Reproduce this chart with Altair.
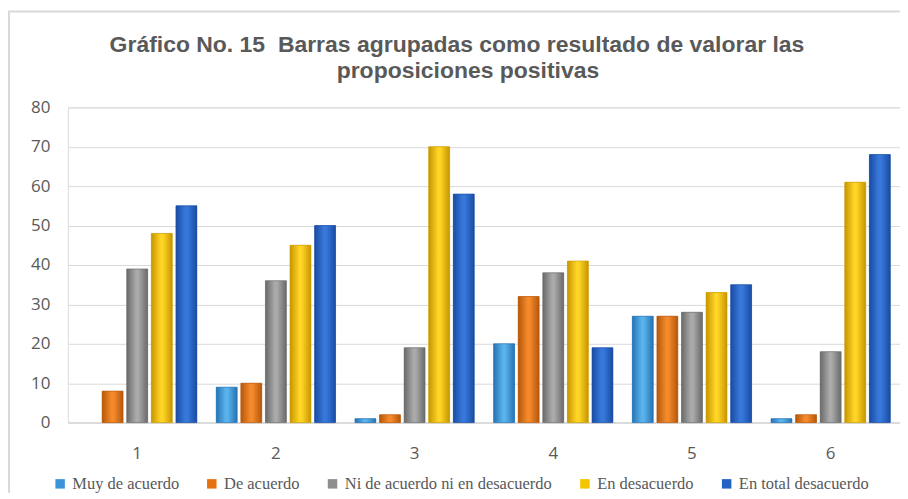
import altair as alt
import pandas as pd

groups = ["1", "2", "3", "4", "5", "6"]
series = ["Muy de acuerdo", "De acuerdo", "Ni de acuerdo ni en desacuerdo",
          "En desacuerdo", "En total desacuerdo"]
muy_de_acuerdo = [0, 9, 1, 20, 27, 1]
de_acuerdo = [8, 10, 2, 32, 27, 2]
ni_ni = [39, 36, 19, 38, 28, 18]
en_desacuerdo = [48, 45, 70, 41, 33, 61]
en_total_desacuerdo = [55, 50, 58, 19, 35, 68]
colors = ["#3a95d8", "#e8710f", "#8e8e8e", "#f5c400", "#2463c4"]
edge_colors = ["#2672b3", "#b5570a", "#6a6a6a", "#c79600", "#1a4ca3"]
mid_colors = ["#5ab3ec", "#f48a2c", "#aaaaaa", "#ffd526", "#3878db"]
title_lines = ["Gráfico No. 15\u00a0 Barras agrupadas como resultado de valorar las",
               "proposiciones positivas"]

values = [muy_de_acuerdo, de_acuerdo, ni_ni, en_desacuerdo, en_total_desacuerdo]
rows = []
for s, vals in zip(series, values):
    for g, v in zip(groups, vals):
        rows.append({"grupo": g, "serie": s, "valor": v})
df = pd.DataFrame(rows)

x_enc = alt.X("grupo:N", sort=groups, title=None,
              scale=alt.Scale(paddingInner=0.14, paddingOuter=0.07),
              axis=alt.Axis(labelAngle=0, labelFont="Open Sans", labelFontSize=17,
                            labelColor="#595959", labelPadding=23, ticks=False,
                            domainColor="#d9d9d9", domainWidth=1.5, grid=False))
xo_enc = alt.XOffset("serie:N", sort=series, scale=alt.Scale(paddingInner=0.15))
y_enc = alt.Y("valor:Q", title=None,
              scale=alt.Scale(domain=[0, 80], nice=False),
              axis=alt.Axis(values=list(range(0, 81, 10)), labelFont="Open Sans",
                            labelFontSize=17, labelColor="#595959", labelPadding=18,
                            ticks=False, domain=False, gridColor="#d9d9d9",
                            gridWidth=1))

bars = alt.Chart(df).mark_bar().encode(
    x=x_enc, xOffset=xo_enc, y=y_enc,
    color=alt.Color("serie:N", sort=series,
                    scale=alt.Scale(domain=series, range=colors),
                    legend=alt.Legend(title=None, orient="none", direction="horizontal",
                                      legendX=-16, legendY=369,
                                      symbolType="square", symbolSize=90,
                                      symbolStrokeWidth=0,
                                      labelFont="Liberation Serif", labelFontSize=16.5,
                                      labelColor="#595959", columnPadding=24,
                                      labelLimit=400)),
)

shade_layers = []
for s, ec, mc in zip(series, edge_colors, mid_colors):
    grad = alt.LinearGradient(
        gradient="linear", x1=0, y1=0, x2=1, y2=0,
        stops=[alt.GradientStop(offset=0, color=ec),
               alt.GradientStop(offset=0.45, color=mc),
               alt.GradientStop(offset=0.55, color=mc),
               alt.GradientStop(offset=1, color=ec)])
    shade_layers.append(
        alt.Chart(df).transform_filter(
            (alt.datum.serie == s) & (alt.datum.valor > 0)).mark_bar(
            color=grad, stroke=ec, strokeWidth=0.6).encode(
            x=x_enc, xOffset=xo_enc, y=y_enc))

frame = alt.Chart(pd.DataFrame({"k": [0]})).mark_rect(
    fill="white", fillOpacity=0, stroke="#d9d9d9", strokeWidth=2).encode(
    x=alt.value(-59), x2=alt.value(900), y=alt.value(-96), y2=alt.value(500))

title1 = alt.Chart(pd.DataFrame({"t": [title_lines[0]]})).mark_text(
    font="Liberation Sans", fontSize=23, fontWeight="bold", color="#595959",
    align="center", baseline="alphabetic").encode(
    text="t:N", x=alt.value(390), y=alt.value(-55))
title2 = alt.Chart(pd.DataFrame({"t": [title_lines[1]]})).mark_text(
    font="Liberation Sans", fontSize=23, fontWeight="bold", color="#595959",
    align="center", baseline="alphabetic").encode(
    text="t:N", x=alt.value(401), y=alt.value(-29))

chart = alt.layer(frame, title1, title2, bars, *shade_layers).properties(
    width=834, height=316,
    autosize=alt.AutoSizeParams(type="none"),
    padding={"left": 60, "top": 99, "right": 0, "bottom": 70},
).configure_view(stroke=None).configure(background="white")

chart.save("out.html", embed_options={"renderer": "svg", "actions": False})
